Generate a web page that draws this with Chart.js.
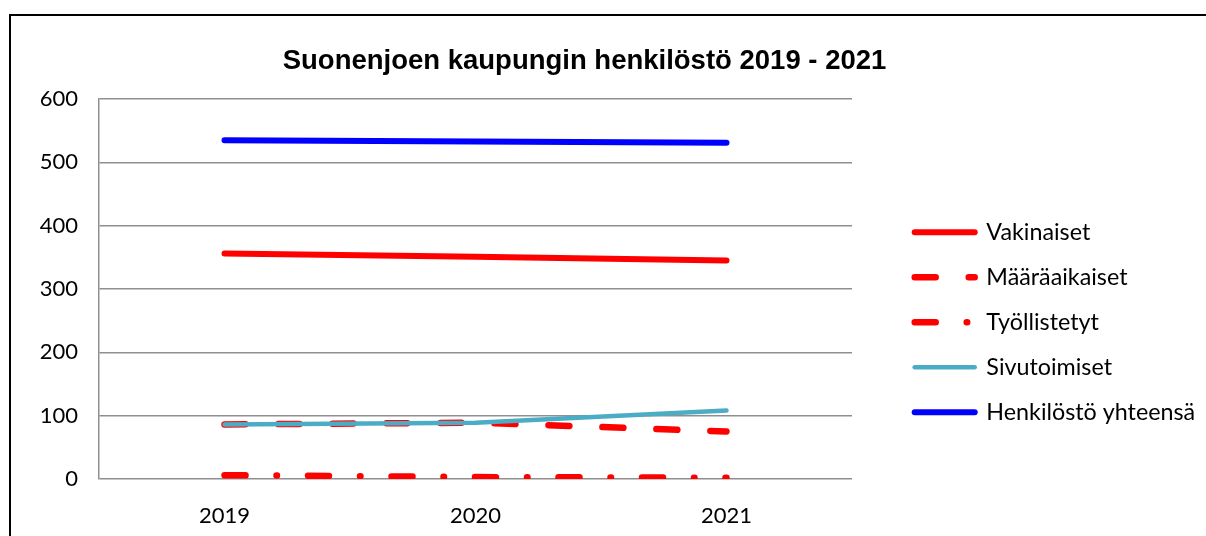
<!DOCTYPE html>
<html>
<head>
<meta charset="utf-8">
<script src="https://cdn.jsdelivr.net/npm/chart.js@4/dist/chart.umd.min.js"></script>
<style>
  body { margin: 0; background: #fff; }
</style>
</head>
<body>
<canvas id="staffChart" width="1206" height="536"></canvas>
<script>
const years = ['2019', '2020', '2021'];
const seriesNames = ['Vakinaiset', 'Määräaikaiset', 'Työllistetyt', 'Sivutoimiset', 'Henkilöstö yhteensä'];
const vakinaiset = [356, 351, 345];
const maaraaikaiset = [86, 89, 75];
const tyollistetyt = [6, 3, 2];
const sivutoimiset = [86, 89, 108];
const yhteensa = [535, 533, 531];
const yMin = 0, yMax = 600, yStep = 100;

const gridGray = '#8f8f8f';

// chart frame (left and top edge are visible, the rest is cut off)
const frame = {
    id: 'frame',
    beforeDraw(chart) {
        const c = chart.ctx;
        c.save();
        c.strokeStyle = '#000';
        c.lineWidth = 2;
        c.strokeRect(10, 15, 1400, 800);
        c.restore();
    }
};

// let the legend texts run up to the canvas edge without being clipped
const legendRoom = {
    id: 'legendRoom',
    afterLayout(chart) {
        chart.legend.right = chart.width;
        chart.legend.width = chart.legend.right - chart.legend.left;
    }
};

function line(label, data, color, width, dash, order) {
    return {
        label: label,
        data: data,
        borderColor: color,
        backgroundColor: color,
        borderWidth: width,
        borderDash: dash,
        borderCapStyle: 'round',
        borderJoinStyle: 'round',
        pointRadius: 0,
        pointHoverRadius: 0,
        tension: 0,
        order: order
    };
}

const datasets = [
    line(seriesNames[0], vakinaiset, '#ff0000', 6, [], 5),
    line(seriesNames[1], maaraaikaiset, '#ff0000', 6.5, [21, 33], 4),
    line(seriesNames[2], tyollistetyt, '#ff0000', 6.5, [21, 31, 0.5, 31], 3),
    line(seriesNames[3], sivutoimiset, '#4bacc6', 4.5, [], 2),
    line(seriesNames[4], yhteensa, '#0000ff', 6, [], 1)
];

const ctx = document.getElementById('staffChart').getContext('2d');

new Chart(ctx, {
    type: 'line',
    data: { labels: years, datasets: datasets },
    plugins: [frame, legendRoom],
    options: {
        responsive: false,
        animation: false,
        layout: { padding: { left: 0, top: 0, right: 37, bottom: 0 } },
        plugins: {
            title: {
                display: true,
                text: 'Suonenjoen kaupungin henkilöstö 2019 - 2021',
                color: '#000',
                font: { family: 'Liberation Sans', size: 27.5, weight: 'bold' },
                padding: { top: 45, bottom: 21 }
            },
            legend: {
                position: 'right',
                align: 'start',
                maxWidth: 276,
                title: { display: true, text: '', font: { size: 10 }, padding: { top: 187, bottom: 0 } },
                labels: {
                    usePointStyle: true,
                    pointStyleWidth: 60,
                    padding: 21.7,
                    color: '#000',
                    font: { family: 'Lato', size: 23.3 },
                    generateLabels: chart => chart.data.datasets.map((ds, i) => ({
                        text: ds.label,
                        strokeStyle: ds.borderColor,
                        fillStyle: ds.borderColor,
                        lineWidth: ds.borderWidth,
                        lineDash: ds.borderDash,
                        lineCap: 'round',
                        pointStyle: 'line',
                        rotation: 180,
                        fontColor: '#000',
                        hidden: false,
                        datasetIndex: i
                    }))
                }
            },
            tooltip: { enabled: false }
        },
        scales: {
            x: {
                offset: true,
                grid: { display: false },
                border: { display: false },
                ticks: { color: '#000', padding: 16, font: { family: 'Lato', size: 22 } },
                afterFit: s => { s.height = 57; }
            },
            y: {
                position: 'left',
                min: yMin,
                max: yMax,
                ticks: { stepSize: yStep, color: '#000', padding: 21, font: { family: 'Lato', size: 22 } },
                grid: { color: gridGray, lineWidth: 1.5, drawTicks: false },
                border: { display: true, color: gridGray, width: 1.5 },
                afterFit: s => { s.width = 99; }
            },
            y2: {
                position: 'right',
                min: yMin,
                max: yMax,
                ticks: { display: false },
                grid: { display: false },
                border: { display: false },
                afterFit: s => { s.width = 41; }
            }
        }
    }
});
</script>
</body>
</html>
